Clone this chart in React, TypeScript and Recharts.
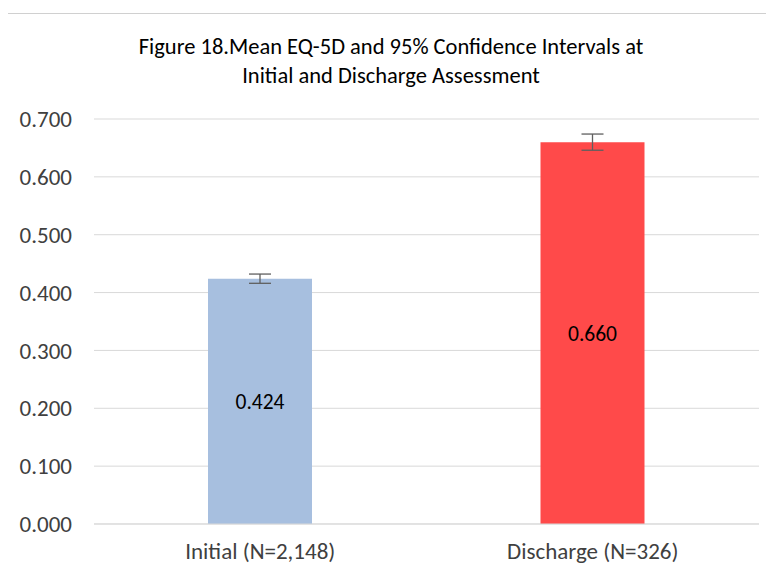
import { BarChart, Bar, XAxis, YAxis, CartesianGrid, ErrorBar, LabelList, Cell } from 'recharts';

const categories = ['Initial (N=2,148)', 'Discharge (N=326)'];
const means = [0.424, 0.66];
const ciHalfWidths = [0.008, 0.014];
const barColors = ['#A7BFDF', '#FF4A4A'];
const yTicks = [0, 0.1, 0.2, 0.3, 0.4, 0.5, 0.6, 0.7];

const FONT = 'Carlito, "Open Sans", "Noto Sans", sans-serif';
const TEXT = '#404040';

export default function App() {
  const data = categories.map((name, i) => ({ name, mean: means[i], ci: ciHalfWidths[i] }));

  return (
    <div style={{ position: 'relative', width: 774, height: 577, margin: -8, overflow: 'hidden', background: '#fff', fontFamily: FONT }}>
      {/* chart frame */}
      <div style={{ position: 'absolute', left: 3, top: 13, width: 800, height: 600, borderTop: '1px solid #D0D0D0', borderLeft: '2px solid #D0D0D0' }} />
      <div
        style={{
          position: 'absolute', left: 0, top: 32, width: 782, textAlign: 'center',
          fontSize: 22.5, lineHeight: '29px', color: '#000',
        }}
      >
        Figure 18.Mean EQ-5D and 95% Confidence Intervals at
        <br />
        Initial and Discharge Assessment
      </div>
      <div style={{ position: 'absolute', left: 0, top: 0 }}>
        <BarChart width={774} height={577} data={data} margin={{ top: 119, right: 15, bottom: 23, left: 0 }}>
          <CartesianGrid horizontal vertical={false} stroke="#D9D9D9" />
          <XAxis
            dataKey="name"
            axisLine={{ stroke: '#D9D9D9' }}
            tickLine={false}
            tickSize={0}
            tickMargin={19}
            tick={{ fill: TEXT, fontSize: 23, fontFamily: FONT }}
          />
          <YAxis
            width={94}
            domain={[0, 0.7]}
            ticks={yTicks}
            axisLine={false}
            tickLine={false}
            tickSize={0}
            tickMargin={22}
            tickFormatter={(v: number) => v.toFixed(3)}
            tick={{ fill: TEXT, fontSize: 23, fontFamily: FONT }}
          />
          <Bar dataKey="mean" barSize={104} isAnimationActive={false}>
            {data.map((d, i) => (
              <Cell key={d.name} fill={barColors[i]} />
            ))}
            <ErrorBar dataKey="ci" width={11} stroke="#5F5F5F" strokeWidth={1.3} direction="y" />
            <LabelList
              dataKey="mean"
              position="center"
              formatter={(v: number) => v.toFixed(3)}
              style={{ fill: '#000', fontSize: 21.5, fontFamily: FONT }}
            />
          </Bar>
        </BarChart>
      </div>
    </div>
  );
}
